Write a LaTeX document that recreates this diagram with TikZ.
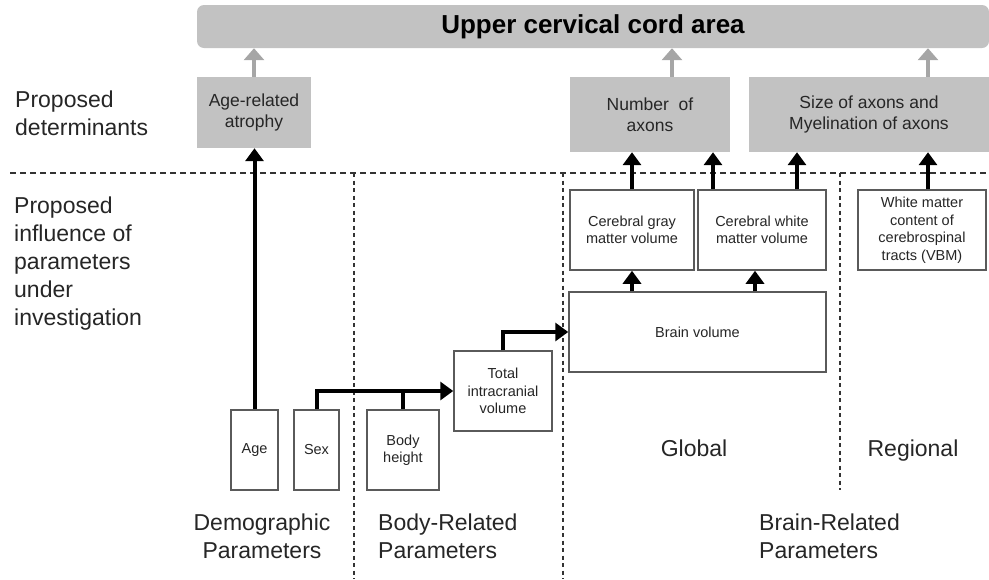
\documentclass[tikz,border=0pt]{standalone}
\usepackage{fontspec}
\setmainfont{Liberation Sans}
\usetikzlibrary{arrows.meta}
\definecolor{boxgray}{HTML}{C2C2C2}
\definecolor{arrowgray}{HTML}{A6A6A6}
\definecolor{edgegray}{HTML}{5A5A5A}
\definecolor{txt}{HTML}{262626}
\begin{document}
\begin{tikzpicture}[x=1pt,y=-1pt,
 detbox/.style={fill=boxgray, draw=none, inner sep=0pt, align=center, text=txt, font=\fontsize{17.5}{21}\selectfont},
 parbox/.style={draw=edgegray, line width=1.5pt, fill=white, inner sep=0pt, align=center, text=txt, font=\fontsize{14.5}{17.5}\selectfont},
 sectlabel/.style={inner sep=0pt, text=txt, font=\fontsize{23}{27.8}\selectfont},
 blackarrow/.style={draw=black, line width=4pt, -{Triangle[width=18pt,length=13pt]}},
 blackline/.style={draw=black, line width=4pt},
 grayarrow/.style={draw=arrowgray, line width=4pt, -{Triangle[width=20pt,length=12pt]}},
 sep/.style={draw=black!80, line width=1.3pt, dash pattern=on 6pt off 4pt},
 vsep/.style={draw=black!80, line width=1.3pt, dash pattern=on 4pt off 3.5pt}
]
\useasboundingbox (0,0) rectangle (989,579);

% separators
\draw[sep] (10,173) -- (989,173);
\draw[vsep] (354,173) -- (354,579);
\draw[vsep] (563,173) -- (563,579);
\draw[vsep] (840,173) -- (840,490);

% banner
\node[fill=boxgray, rounded corners=7pt, minimum width=792pt, minimum height=43pt, inner sep=0pt,
      font=\fontsize{26}{30}\selectfont\bfseries, text=black] (banner) at (593,26.5) {Upper cervical cord area};

% determinants
\node[detbox, minimum width=114pt, minimum height=71pt] (atrophy) at (254,112.5) {Age-related\\atrophy};
\node[detbox, minimum width=160pt, minimum height=75pt] (number) at (650,114.5) {Number\ \ of\\axons};
\node[detbox, minimum width=240pt, minimum height=75pt] (size) at (869,114.5) {Size of axons and\\Myelination of axons};

% parameters
\node[parbox, minimum width=124pt, minimum height=80pt] (gray) at (632,230) {Cerebral gray\\matter volume};
\node[parbox, minimum width=128pt, minimum height=80pt] (white) at (762,230) {Cerebral white\\matter volume};
\node[parbox, minimum width=128pt, minimum height=80pt] (wm) at (922,230) {White matter\\content of\\cerebrospinal\\tracts (VBM)};
\node[parbox, minimum width=257pt, minimum height=80pt] (brain) at (697.5,332) {Brain volume};
\node[parbox, minimum width=47pt, minimum height=80pt] (age) at (254.5,450) {Age};
\node[parbox, minimum width=45pt, minimum height=80pt] (sex) at (316.5,450) {Sex};
\node[parbox, minimum width=72pt, minimum height=80pt] (body) at (403,450) {Body\\height};
\node[parbox, minimum width=98pt, minimum height=80pt] (tiv) at (503,391) {Total\\intracranial\\volume};

% section labels
\node[sectlabel, anchor=west, align=left] (ldet) at (15,113.5) {Proposed\\determinants};
\node[sectlabel, anchor=west, align=left] (linf) at (14,263.5) {Proposed\\influence of\\parameters\\under\\investigation};
\node[sectlabel, align=center] (ldemo) at (262,536) {Demographic\\Parameters};
\node[sectlabel, anchor=west, align=left] (lbody) at (378,536) {Body-Related\\Parameters};
\node[sectlabel, anchor=west, align=left] (lbrain) at (759,536) {Brain-Related\\Parameters};
\node[sectlabel, anchor=base] (lglobal) at (694,456) {Global};
\node[sectlabel, anchor=base] (lregional) at (913,456) {Regional};

% gray arrows to banner
\coordinate (nt) at ([xshift=22pt]number.north);
\coordinate (st) at ([xshift=59pt]size.north);
\draw[grayarrow] (atrophy.north) -- (atrophy.north |- banner.south);
\draw[grayarrow] (nt) -- (nt |- banner.south);
\draw[grayarrow] (st) -- (st |- banner.south);

% black arrows
\coordinate (wtl) at ([xshift=-49pt]white.north);
\coordinate (wtr) at ([xshift=35pt]white.north);
\coordinate (wmt) at ([xshift=6pt]wm.north);
\coordinate (wb) at ([xshift=-7pt]white.south);
\draw[blackarrow] (age.north) -- (age.north |- atrophy.south);
\draw[blackarrow] (gray.north) -- (gray.north |- number.south);
\draw[blackarrow] (wtl) -- (wtl |- number.south);
\draw[blackarrow] (wtr) -- (wtr |- size.south);
\draw[blackarrow] (wmt) -- (wmt |- size.south);
\draw[blackarrow] (gray.south |- brain.north) -- (gray.south);
\draw[blackarrow] (wb |- brain.north) -- (wb);
\draw[blackline] (body.north) -- (body.north |- tiv.west);
\draw[blackarrow] (sex.north) |- (tiv.west);
\draw[blackarrow] (tiv.north) |- (brain.west);
\end{tikzpicture}
\end{document}
